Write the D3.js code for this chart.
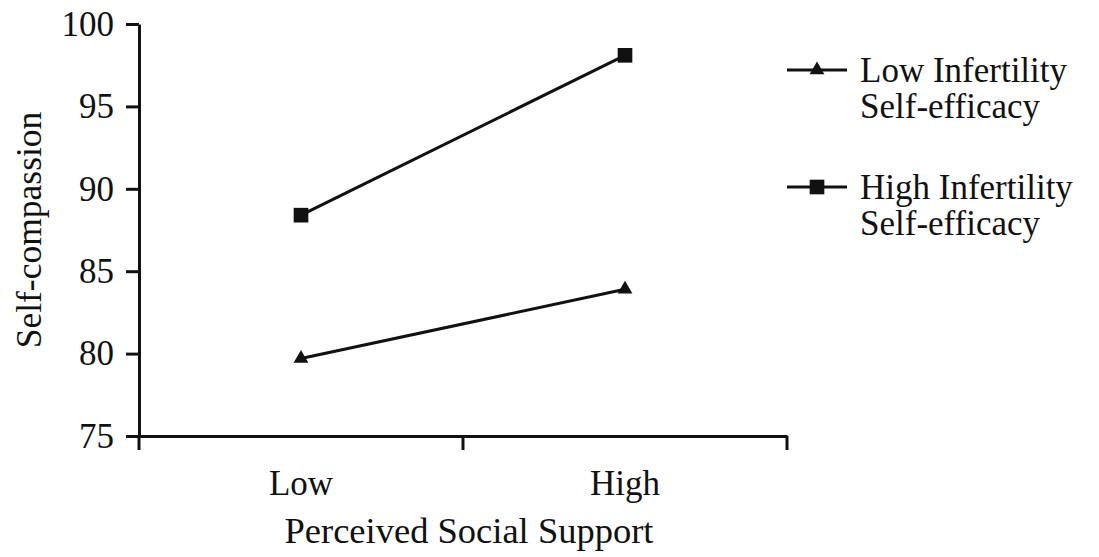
<!DOCTYPE html>
<html>
<head>
<meta charset="utf-8">
<script src="https://cdn.jsdelivr.net/npm/d3@7"></script>
<style>
  body { margin: 0; background: #fff; }
  text { font-family: "Liberation Serif", "Times New Roman", serif; fill: #111; }
</style>
</head>
<body>
<div id="chart"></div>
<script>
// chart data
const supportLevels = ["Low", "High"];
const seriesNames = ["Low Infertility Self-efficacy", "High Infertility Self-efficacy"];
const lowEfficacy = [79.7, 83.9];
const highEfficacy = [88.4, 98.1];
const yTicks = [75, 80, 85, 90, 95, 100];

const width = 1099, height = 557;
const margin = { top: 24, right: 312, bottom: 121, left: 139 };

const svg = d3.select("#chart")
  .append("svg")
  .attr("width", width)
  .attr("height", height);

// scales
const x = d3.scaleBand()
  .domain(supportLevels)
  .range([margin.left, width - margin.right])
  .padding(0);

const y = d3.scaleLinear()
  .domain([75, 100])
  .range([height - margin.bottom, margin.top]);

// y axis
const yAxis = svg.append("g")
  .attr("transform", `translate(${margin.left},0)`)
  .call(d3.axisLeft(y).tickValues(yTicks).tickSize(13).tickPadding(12).tickSizeOuter(0));
yAxis.select(".domain").attr("stroke", "#111").attr("stroke-width", 3);
yAxis.selectAll(".tick line").attr("stroke", "#111").attr("stroke-width", 3);
yAxis.selectAll(".tick text").attr("font-size", 35).attr("font-family", "Liberation Serif").attr("fill", "#111");

// x axis: labels at band centres, ticks at band edges
const xAxis = svg.append("g")
  .attr("transform", `translate(0,${y(75)})`)
  .call(d3.axisBottom(x).tickSize(0).tickPadding(34).tickSizeOuter(0));
xAxis.select(".domain").attr("stroke", "#111").attr("stroke-width", 3);
xAxis.selectAll(".tick text").attr("font-size", 35).attr("font-family", "Liberation Serif").attr("fill", "#111");

const edges = [x.range()[0]].concat(supportLevels.map(d => x(d) + x.bandwidth()));
xAxis.selectAll(".edge")
  .data(edges)
  .enter()
  .append("line")
  .attr("class", "edge")
  .attr("x1", d => d).attr("x2", d => d)
  .attr("y1", 0).attr("y2", 14)
  .attr("stroke", "#111")
  .attr("stroke-width", 3);

// axis titles
svg.append("text")
  .attr("x", (x.range()[0] + x.range()[1]) / 2 + 6)
  .attr("y", 543)
  .attr("text-anchor", "middle")
  .attr("font-size", 36.5)
  .text("Perceived Social Support");

svg.append("text")
  .attr("transform", `translate(41,${(y(75) + y(100)) / 2}) rotate(-90)`)
  .attr("text-anchor", "middle")
  .attr("font-size", 35.5)
  .text("Self-compassion");

// lines and markers
const series = [
  { name: seriesNames[0], values: lowEfficacy, symbol: d3.symbolTriangle, size: 95 },
  { name: seriesNames[1], values: highEfficacy, symbol: d3.symbolSquare, size: 215 }
];

const line = d3.line()
  .x((d, i) => x(supportLevels[i]) + x.bandwidth() / 2)
  .y(d => y(d));

series.forEach(s => {
  svg.append("path")
    .attr("d", line(s.values))
    .attr("fill", "none")
    .attr("stroke", "#111")
    .attr("stroke-width", 3);

  svg.selectAll(null)
    .data(s.values)
    .enter()
    .append("path")
    .attr("d", d3.symbol().type(s.symbol).size(s.size))
    .attr("transform", (d, i) => `translate(${x(supportLevels[i]) + x.bandwidth() / 2},${y(d)})`)
    .attr("fill", "#111");
});

// legend
const legendRows = [70, 187];
series.forEach((s, i) => {
  const g = svg.append("g").attr("transform", `translate(787,${legendRows[i]})`);
  g.append("line")
    .attr("x1", 0).attr("x2", 60)
    .attr("y1", 0).attr("y2", 0)
    .attr("stroke", "#111")
    .attr("stroke-width", 3);
  g.append("path")
    .attr("d", d3.symbol().type(s.symbol).size(s.size))
    .attr("transform", "translate(30,0)")
    .attr("fill", "#111");
  const words = s.name.split(" ");
  const t = g.append("text")
    .attr("x", 73)
    .attr("y", 12)
    .attr("font-size", 35);
  t.append("tspan").attr("x", 73).text(words.slice(0, 2).join(" "));
  t.append("tspan").attr("x", 73).attr("dy", 36).text(words.slice(2).join(" "));
});
</script>
</body>
</html>
